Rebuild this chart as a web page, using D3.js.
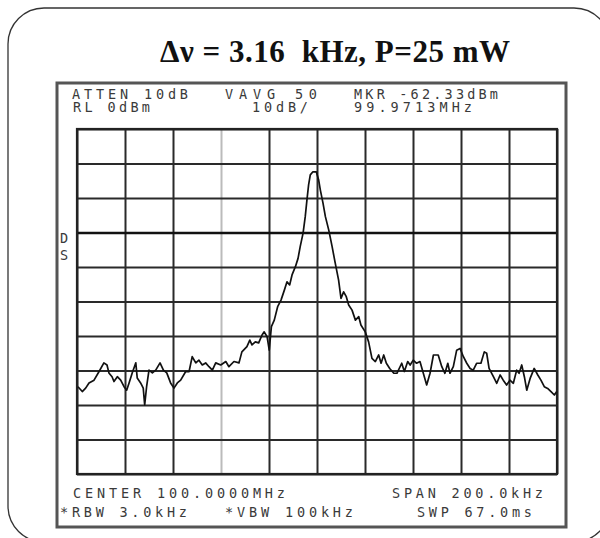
<!DOCTYPE html>
<html><head><meta charset="utf-8">
<script src="https://cdn.jsdelivr.net/npm/d3@7"></script>
<style>
html,body{margin:0;padding:0;background:#fff;}
svg{display:block;}
.mono{font-family:"DejaVu Sans Mono",monospace;font-size:13.5px;fill:#3a3a3a;white-space:pre;}
</style></head>
<body>
<svg id="c" width="600" height="538"></svg>
<script>
// ---- data ----
const title = "Δν = 3.16  kHz, P=25 mW";
// frequency offset from centre (kHz) and level (dBm)
const freqKHz = [-99.6,-97.8,-96.4,-95.0,-92.9,-90.8,-88.8,-87.5,-86.7,-85.4,-84.6,-83.2,-81.8,-80.4,-79.3,-78.3,-77.0,-75.5,-74.9,-73.5,-72.4,-71.8,-71.0,-70.0,-68.6,-67.2,-65.4,-64.0,-62.6,-61.0,-59.6,-58.2,-56.8,-54.7,-53.3,-52.0,-50.5,-49.2,-47.8,-46.4,-45.0,-43.6,-42.2,-40.1,-38.0,-36.7,-34.6,-32.5,-31.3,-29.2,-28.0,-27.1,-25.7,-24.3,-22.9,-22.0,-20.8,-19.9,-19.0,-17.8,-16.4,-15.0,-13.6,-12.5,-11.4,-10.4,-9.0,-7.9,-7.0,-5.8,-4.9,-4.2,-3.5,-2.8,-1.7,-0.3,0.7,1.4,2.5,3.5,4.9,6.3,7.6,9.0,10.0,11.1,12.2,13.2,14.6,16.0,17.4,18.3,20.1,21.5,22.9,24.3,25.7,26.7,27.8,28.9,30.3,32.0,33.3,35.3,36.4,37.8,38.8,40.1,41.5,42.9,44.3,45.7,47.1,48.5,50.5,52.0,53.3,54.5,55.4,56.8,58.2,59.6,61.0,62.4,63.8,65.1,66.5,68.3,69.7,70.7,71.7,73.5,74.9,76.3,77.6,79.0,80.4,81.8,83.2,84.2,85.3,86.4,87.4,88.8,90.5,92.0,93.3,94.7,96.1,97.5,98.9,99.9];
const levelDBm = [-74.7,-76.1,-75.1,-73.6,-72.8,-70.3,-67.8,-68.4,-70.7,-71.8,-73.2,-71.8,-72.8,-74.7,-75.7,-73.6,-70.7,-67.8,-72.2,-73.6,-75.1,-80.0,-74.7,-69.9,-70.7,-69.9,-67.8,-69.9,-70.7,-73.6,-75.1,-73.6,-72.8,-70.3,-70.3,-66.0,-67.8,-67.0,-68.4,-67.8,-68.9,-69.9,-67.8,-68.4,-67.4,-68.9,-67.4,-67.8,-64.6,-63.1,-61.2,-62.6,-61.7,-62.0,-59.7,-58.8,-60.2,-64.1,-57.3,-55.4,-51.5,-49.6,-46.7,-44.3,-45.2,-42.3,-39.9,-37.5,-34.1,-30.2,-25.4,-20.6,-16.2,-13.3,-12.4,-12.4,-14.8,-17.7,-21.5,-25.4,-29.3,-34.1,-38.9,-43.8,-49.1,-47.2,-48.6,-51.0,-52.5,-55.4,-54.4,-56.8,-58.8,-61.7,-66.5,-67.4,-65.5,-67.9,-65.5,-67.9,-69.4,-70.8,-70.8,-67.9,-70.3,-67.4,-68.4,-67.0,-67.9,-67.4,-70.8,-74.2,-70.8,-65.5,-65.5,-68.9,-70.8,-67.9,-70.8,-68.9,-64.1,-63.6,-66.0,-67.9,-69.4,-69.9,-67.9,-67.9,-64.6,-65.0,-69.4,-71.8,-73.7,-71.3,-72.8,-74.2,-72.8,-73.7,-69.9,-70.8,-68.4,-71.8,-75.7,-72.3,-69.4,-71.3,-72.8,-74.7,-75.2,-76.1,-77.1,-76.1];
const xTicks = [-100,-80,-60,-40,-20,0,20,40,60,80,100];
const yTicks = [-100,-90,-80,-70,-60,-50,-40,-30,-20,-10,0];
const topLabels = [["ATTEN 10dB",72,188,99],["VAVG 50",225,317,99],["MKR -62.33dBm",354,498,99],
                   ["RL 0dBm",73,150,112],["10dB/",252,308,112],["99.9713MHz",354,472,112]];
const bottomLabels = [["CENTER 100.0000MHz",73,285,498],["SPAN 200.0kHz",392,543,498],
                      ["*RBW 3.0kHz",60,187,517],["*VBW 100kHz",225,353,517],["SWP 67.0ms",417,532,517]];
const sideMarks = ["D","S"];

// ---- drawing ----
const svg = d3.select("#c");
const L=77,R=557,T=129,B=474;
const x = d3.scaleLinear().domain([-100,100]).range([L,R]);
const y = d3.scaleLinear().domain([-100,0]).range([B,T]);

// outer rounded border
svg.append("rect").attr("x",8).attr("y",8).attr("width",602).attr("height",534)
  .attr("rx",36).attr("fill","#fff").attr("stroke","#333").attr("stroke-width",1.3);

// title
svg.append("text").attr("x",160).attr("y",62)
  .attr("textLength",350).attr("lengthAdjust","spacing")
  .style("font-family","'Liberation Serif','Times New Roman',serif").style("font-weight","bold")
  .style("font-size","31px").style("white-space","pre").attr("fill","#111").text(title);

// instrument frame
svg.append("rect").attr("x",57).attr("y",83).attr("width",509).attr("height",444)
  .attr("fill","none").attr("stroke","#555").attr("stroke-width",3);

// grid via axes
const gx = svg.append("g").attr("transform",`translate(0,${B})`)
  .call(d3.axisBottom(x).tickValues(xTicks).tickSize(-(B-T)).tickFormat(""));
gx.select(".domain").remove();
gx.selectAll("line").attr("stroke",d=>d===-40?"#bbb":"#2a2a2a").attr("stroke-width",2);
const gy = svg.append("g").attr("transform",`translate(${L},0)`)
  .call(d3.axisLeft(y).tickValues(yTicks).tickSize(-(R-L)).tickFormat(""));
gy.select(".domain").remove();
gy.selectAll("line").attr("stroke",d=>d===-30?"#111":"#2a2a2a").attr("stroke-width",d=>d===-30?2.6:2);
svg.append("rect").attr("x",L).attr("y",T).attr("width",R-L).attr("height",B-T)
  .attr("fill","none").attr("stroke","#222").attr("stroke-width",2.2);

// trace
const pts = freqKHz.map((f,i)=>[f,levelDBm[i]]);
svg.append("path").datum(pts)
  .attr("d",d3.line().x(d=>x(d[0])).y(d=>y(d[1])))
  .attr("fill","none").attr("stroke","#111").attr("stroke-width",1.7).attr("stroke-linejoin","round");

// labels
function lab(a){
  svg.append("text").attr("class","mono").attr("x",a[1]).attr("y",a[3])
    .attr("textLength",a[2]-a[1]).attr("lengthAdjust","spacing").text(a[0]);
}
topLabels.forEach(lab);
bottomLabels.forEach(lab);
sideMarks.forEach((s,i)=>svg.append("text").attr("class","mono").attr("x",60).attr("y",243+i*17).text(s));
</script>
</body></html>
